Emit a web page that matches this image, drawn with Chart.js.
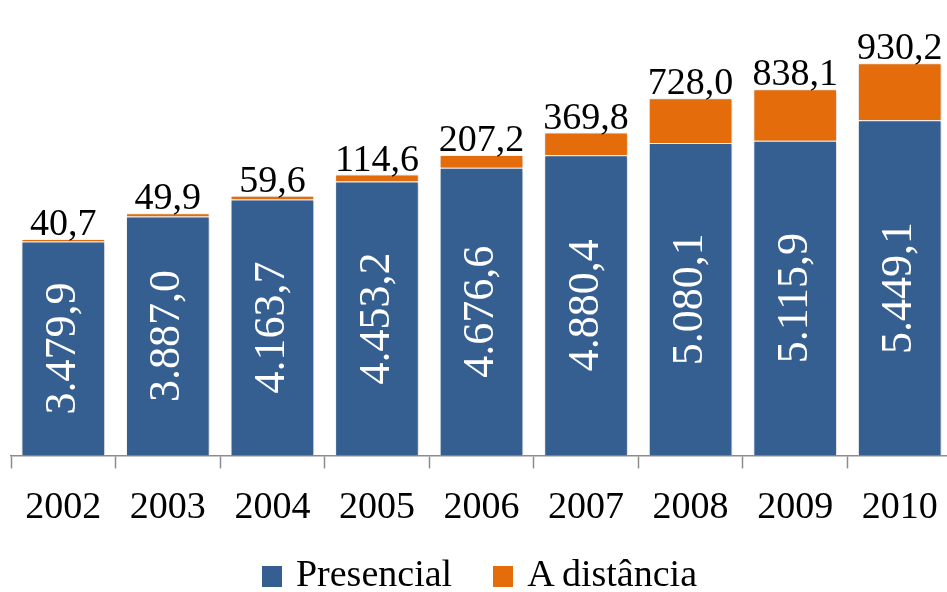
<!DOCTYPE html>
<html>
<head>
<meta charset="utf-8">
<script src="https://cdn.jsdelivr.net/npm/chart.js@4.4.1/dist/chart.umd.min.js"></script>
<style>
  html, body { margin: 0; padding: 0; background: #fff; overflow: hidden; }
  #wrap { position: relative; width: 947px; height: 592px; overflow: hidden; }
  #legend {
    position: absolute; left: 6px; top: 551px; width: 947px; height: 44px;
    display: flex; justify-content: center; align-items: center;
    font-family: 'Liberation Serif', 'DejaVu Serif', serif; font-size: 38px; color: #000;
  }
  .item { display: flex; align-items: center; }
  .item + .item { margin-left: 41px; }
  .box { width: 20px; height: 21px; margin-right: 14px; margin-top: 6px; }
</style>
</head>
<body>
<div id="wrap">
  <canvas id="chart" width="960" height="592"></canvas>
  <div id="legend"></div>
</div>
<script>
const years = ["2002", "2003", "2004", "2005", "2006", "2007", "2008", "2009", "2010"];
const presencial = [3479.9, 3887.0, 4163.7, 4453.2, 4676.6, 4880.4, 5080.1, 5115.9, 5449.1];
const aDistancia = [40.7, 49.9, 59.6, 114.6, 207.2, 369.8, 728.0, 838.1, 930.2];

const serif = "'Liberation Serif', 'DejaVu Serif', serif";

// 3479.9 -> "3.479,9"
function fmt(v) {
    const parts = v.toFixed(1).split(".");
    const intPart = parts[0].replace(/\B(?=(\d{3})+(?!\d))/g, ".");
    return intPart + "," + parts[1];
}

const shadowPlugin = {
    id: "barShadow",
    beforeDatasetsDraw(chart) {
        const ctx = chart.ctx;
        ctx.save();
        ctx.shadowColor = "rgba(0,0,0,0.22)";
        ctx.shadowBlur = 4;
        ctx.shadowOffsetX = 1;
        ctx.shadowOffsetY = 1;
    },
    afterDatasetsDraw(chart) {
        chart.ctx.restore();
    }
};

const labelPlugin = {
    id: "barLabels",
    afterDatasetsDraw(chart) {
        const ctx = chart.ctx;
        const blue = chart.getDatasetMeta(0);
        const orange = chart.getDatasetMeta(1);
        ctx.save();
        blue.data.forEach((bar, i) => {
            const cy = (bar.y + bar.base) / 2;
            ctx.save();
            ctx.translate(bar.x, cy);
            ctx.rotate(-Math.PI / 2);
            ctx.font = "44px " + serif;
            ctx.fillStyle = "#ffffff";
            ctx.textAlign = "center";
            ctx.textBaseline = "middle";
            ctx.fillText(fmt(presencial[i]), 0, 0);
            ctx.restore();
        });
        orange.data.forEach((bar, i) => {
            ctx.font = "38px " + serif;
            ctx.fillStyle = "#000000";
            ctx.textAlign = "center";
            ctx.textBaseline = "alphabetic";
            ctx.fillText(fmt(aDistancia[i]), bar.x, bar.y - 4);
        });
        ctx.restore();
    }
};

const chart = new Chart(document.getElementById("chart").getContext("2d"), {
    type: "bar",
    data: {
        labels: years,
        datasets: [
            {
                label: "Presencial",
                data: presencial,
                backgroundColor: "#365F91",
                borderColor: "#ffffff",
                borderWidth: 1,
                borderSkipped: "bottom",
                barPercentage: 0.8,
                categoryPercentage: 1.0
            },
            {
                label: "A distância",
                data: aDistancia,
                backgroundColor: "#E46C0A",
                borderColor: "#ffffff",
                borderWidth: 1,
                borderSkipped: "bottom",
                barPercentage: 0.8,
                categoryPercentage: 1.0
            }
        ]
    },
    options: {
        responsive: false,
        animation: false,
        layout: {
            padding: { left: 11, right: 8, top: 25, bottom: 44 }
        },
        scales: {
            x: {
                stacked: true,
                border: { display: true, color: "#8c8c8c", width: 1.5 },
                grid: {
                    display: true,
                    drawOnChartArea: false,
                    drawTicks: true,
                    tickLength: 13,
                    tickWidth: 1.5,
                    tickColor: "#8c8c8c",
                    offset: true
                },
                ticks: {
                    color: "#000000",
                    padding: 17,
                    font: { family: serif, size: 38 }
                }
            },
            y: {
                stacked: true,
                display: false,
                min: 0,
                max: 7000
            }
        },
        plugins: {
            legend: { display: false },
            tooltip: { enabled: false }
        }
    },
    plugins: [shadowPlugin, labelPlugin]
});

// legend built from the chart's datasets
const legendEl = document.getElementById("legend");
chart.data.datasets.forEach(ds => {
    const item = document.createElement("div");
    item.className = "item";
    const box = document.createElement("span");
    box.className = "box";
    box.style.background = ds.backgroundColor;
    const txt = document.createElement("span");
    txt.textContent = ds.label;
    item.appendChild(box);
    item.appendChild(txt);
    legendEl.appendChild(item);
});
</script>
</body>
</html>
